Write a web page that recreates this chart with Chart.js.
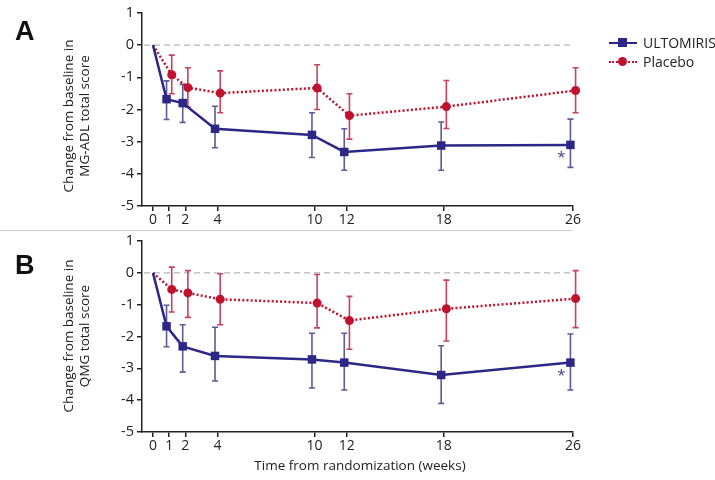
<!DOCTYPE html>
<html>
<head>
<meta charset="utf-8">
<script src="https://cdn.jsdelivr.net/npm/chart.js@4.4.0/dist/chart.umd.min.js"></script>
<style>
    body { margin: 0; background: #fff; font-family: "Open Sans", sans-serif; color: #222; }
    #page { position: relative; width: 715px; height: 480px; overflow: hidden; }
    .panel { position: absolute; left: 0; width: 715px; height: 230px; }
    .letter { position: absolute; left: 15px; font: bold 27px "Liberation Sans", Arial, sans-serif; color: #111; }
    .ytitle { position: absolute; width: 200px; text-align: center; font-size: 13.5px; line-height: 16px;
              transform: translate(-50%, -50%) rotate(-90deg); white-space: nowrap; }
    #xtitle { position: absolute; top: 456px; left: 210px; width: 300px; text-align: center; font-size: 13.5px; white-space: nowrap; }
    #sep { position: absolute; top: 230px; left: 0; width: 572px; height: 1px; background: #c8c8c8; }
    .leg { position: absolute; left: 609px; height: 18px; font-size: 14px; }
    .leg .ln { position: absolute; left: 0; top: 8px; width: 28px; }
    .leg .mk { position: absolute; }
    .leg .tx { position: absolute; left: 34px; top: -1px; white-space: nowrap; }
</style>
</head>
<body>
<div id="page">
    <div class="panel" style="top:0"><canvas id="chartA"></canvas></div>
    <div class="panel" style="top:228px"><canvas id="chartB"></canvas></div>
    <div id="sep"></div>
    <div class="letter" style="top:16px">A</div>
    <div class="letter" style="top:250px">B</div>
    <div class="ytitle" style="left:76px; top:116px">Change from baseline in<br>MG-ADL total score</div>
    <div class="ytitle" style="left:76px; top:336px">Change from baseline in<br>QMG total score</div>
    <div id="xtitle">Time from randomization (weeks)</div>
    <div class="leg" style="top:34px">
        <div class="ln" style="border-top:2.5px solid #2d2785"></div>
        <div class="mk" style="left:9px; top:4px; width:9px; height:9px; background:#2d2785"></div>
        <div class="tx">ULTOMIRIS</div>
    </div>
    <div class="leg" style="top:53px">
        <div class="ln" style="border-top:2.5px dotted #c0122f"></div>
        <div class="mk" style="left:9px; top:4px; width:9px; height:9px; border-radius:50%; background:#c0122f"></div>
        <div class="tx">Placebo</div>
    </div>
</div>

<script>
// weeks from randomization
const weeks = [0, 1, 2, 4, 10, 12, 18, 26];
const weekTicks = [0, 1, 2, 4, 10, 12, 18, 26];

// Panel A: MG-ADL total score
const ultA    = [0, -1.68, -1.80, -2.60, -2.79, -3.32, -3.12, -3.10];
const ultALow = [null, -2.31, -2.40, -3.19, -3.49, -3.89, -3.89, -3.80];
const ultAHigh = [null, -1.11, -1.22, -1.90, -2.10, -2.60, -2.39, -2.30];
const plaA    = [0, -0.92, -1.32, -1.49, -1.33, -2.19, -1.91, -1.41];
const plaALow = [null, -1.51, -1.92, -2.10, -2.00, -2.92, -2.59, -2.10];
const plaAHigh = [null, -0.31, -0.70, -0.80, -0.61, -1.51, -1.10, -0.70];

// Panel B: QMG total score
const ultB    = [0, -1.68, -2.31, -2.61, -2.72, -2.82, -3.21, -2.82];
const ultBLow = [null, -2.32, -3.12, -3.40, -3.62, -3.68, -4.10, -3.68];
const ultBHigh = [null, -1.02, -1.63, -1.71, -1.90, -1.90, -2.29, -1.92];
const plaB    = [0, -0.52, -0.63, -0.83, -0.95, -1.50, -1.13, -0.81];
const plaBLow = [null, -1.23, -1.40, -1.63, -1.73, -2.40, -2.14, -1.72];
const plaBHigh = [null, 0.18, 0.07, -0.03, -0.05, -0.74, -0.23, 0.07];

const ULT_COLOR = '#2d2785';
const ULT_ERR = '#5e5b98';
const PLA_COLOR = '#c0122f';
const PLA_ERR = '#c9425a';
const DODGE = 0.16; // small horizontal shift so the two series don't overlap

function toPoints(values, shift) {
    return weeks.map((w, i) => ({ x: w === 0 ? w : w + shift, y: values[i] }));
}

// zero reference line, error bars and the significance asterisk
const extrasPlugin = {
    id: 'extras',
    beforeDatasetsDraw(chart) {
        const { ctx, chartArea, scales: { x, y } } = chart;
        ctx.save();
        ctx.strokeStyle = '#b5b5b5';
        ctx.lineWidth = 1.2;
        ctx.setLineDash([6, 4]);
        ctx.beginPath();
        ctx.moveTo(chartArea.left + 2, y.getPixelForValue(0));
        ctx.lineTo(x.getPixelForValue(26), y.getPixelForValue(0));
        ctx.stroke();
        ctx.setLineDash([]);

        chart.data.datasets.forEach(ds => {
            ctx.strokeStyle = ds.errColor;
            ctx.lineWidth = 1.6;
            ds.data.forEach((p, i) => {
                if (ds.low[i] == null) return;
                const px = x.getPixelForValue(p.x);
                const top = y.getPixelForValue(ds.high[i]);
                const bot = y.getPixelForValue(ds.low[i]);
                ctx.beginPath();
                ctx.moveTo(px, top); ctx.lineTo(px, bot);
                ctx.moveTo(px - 3, top); ctx.lineTo(px + 3, top);
                ctx.moveTo(px - 3, bot); ctx.lineTo(px + 3, bot);
                ctx.stroke();
            });
        });
        ctx.restore();
    },
    afterDatasetsDraw(chart) {
        const { ctx, scales: { x, y } } = chart;
        const ds = chart.data.datasets[0];
        const last = ds.data[ds.data.length - 1];
        ctx.save();
        ctx.fillStyle = '#3c3a8c';
        ctx.font = '15px "Open Sans"';
        ctx.textAlign = 'center';
        ctx.textBaseline = 'middle';
        ctx.fillText('*', x.getPixelForValue(last.x) - 9, y.getPixelForValue(last.y) + 13);
        ctx.restore();
    }
};

function makeChart(id, ult, ultLow, ultHigh, pla, plaLow, plaHigh, xAxisHeight) {
    const ctx = document.getElementById(id).getContext('2d');
    return new Chart(ctx, {
        type: 'line',
        data: {
            datasets: [{
                label: 'ULTOMIRIS',
                data: toPoints(ult, -DODGE),
                low: ultLow,
                high: ultHigh,
                errColor: ULT_ERR,
                borderColor: ULT_COLOR,
                backgroundColor: ULT_COLOR,
                borderWidth: 2.5,
                pointStyle: 'rect',
                pointRadius: weeks.map(w => w === 0 ? 0 : 6),
                pointBorderWidth: 0,
                tension: 0,
                clip: false
            }, {
                label: 'Placebo',
                data: toPoints(pla, DODGE),
                low: plaLow,
                high: plaHigh,
                errColor: PLA_ERR,
                borderColor: PLA_COLOR,
                backgroundColor: PLA_COLOR,
                borderWidth: 2.5,
                borderDash: [2, 2.2],
                pointStyle: 'circle',
                pointRadius: weeks.map(w => w === 0 ? 0 : 4.5),
                pointBorderWidth: 0,
                tension: 0,
                clip: false
            }]
        },
        options: {
            responsive: false,
            animation: false,
            devicePixelRatio: 1,
            layout: { padding: { top: 13, left: 0, right: 142, bottom: 0 } },
            plugins: { legend: { display: false }, tooltip: { enabled: false } },
            scales: {
                x: {
                    type: 'linear',
                    min: -0.68,
                    max: 26,
                    afterBuildTicks: scale => { scale.ticks = weekTicks.map(v => ({ value: v })); },
                    afterFit: scale => { scale.height = xAxisHeight; },
                    grid: { drawOnChartArea: false, drawTicks: true, tickLength: 5, color: '#222', lineWidth: 1.5 },
                    border: { display: true, color: '#222', width: 1.5 },
                    ticks: { color: '#222', font: { family: 'Open Sans', size: 14 }, padding: 1, maxRotation: 0, autoSkip: false }
                },
                y: {
                    min: -5,
                    max: 1,
                    afterFit: scale => { scale.width = 142; },
                    grid: { drawOnChartArea: false, drawTicks: true, tickLength: 5, color: '#222', lineWidth: 1.5 },
                    border: { display: true, color: '#222', width: 1.5 },
                    ticks: { stepSize: 1, color: '#222', font: { family: 'Open Sans', size: 14.5 }, padding: 3 }
                }
            }
        },
        plugins: [extrasPlugin]
    });
}

document.getElementById('chartA').width = 715;
document.getElementById('chartA').height = 230;
document.getElementById('chartB').width = 715;
document.getElementById('chartB').height = 230;

makeChart('chartA', ultA, ultALow, ultAHigh, plaA, plaALow, plaAHigh, 24);
makeChart('chartB', ultB, ultBLow, ultBHigh, plaB, plaBLow, plaBHigh, 26);
</script>
</body>
</html>
